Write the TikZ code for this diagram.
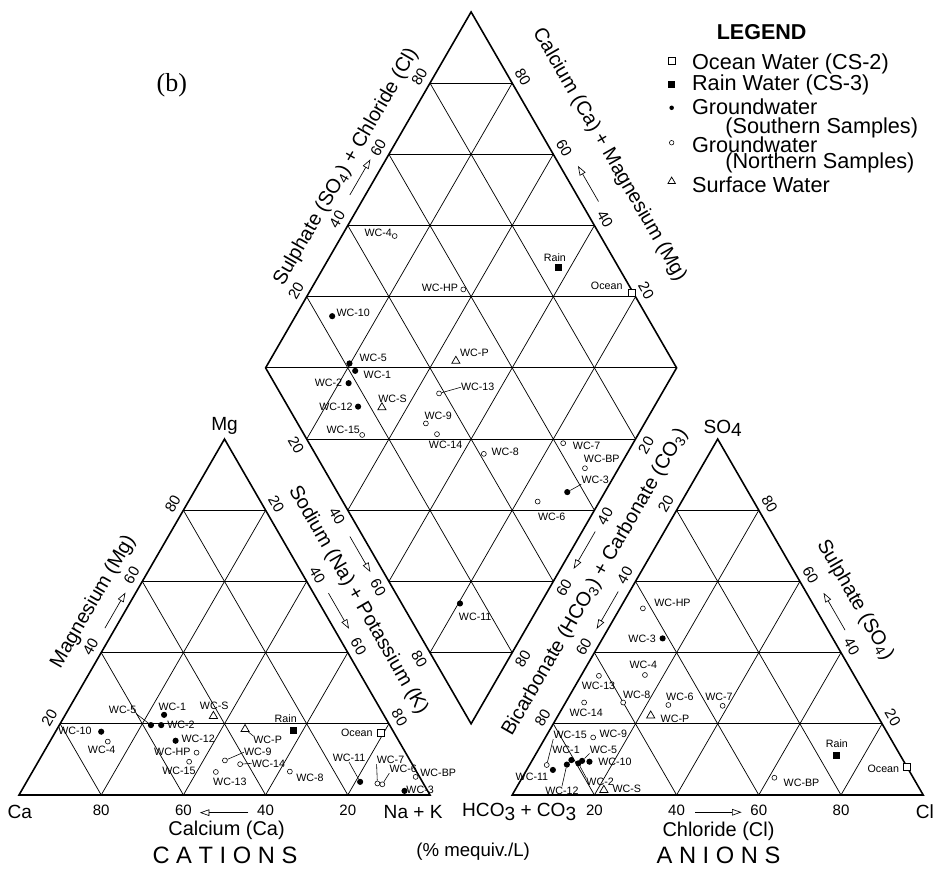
\documentclass[tikz,border=0pt]{standalone}
\usepackage{fontspec}
\setmainfont{Liberation Sans}
\newfontfamily\serifb{Liberation Serif}
\usetikzlibrary{arrows.meta,shapes.geometric}

\tikzset{
  outline/.style={line width=1.1pt},
  gridline/.style={line width=0.5pt},
  ticknum/.style={font=\fontsize{10.4}{12}\selectfont,inner sep=0pt},
  axtitle/.style={font=\fontsize{13.8}{16}\selectfont,inner sep=0pt},
  corner/.style={font=\fontsize{13.2}{16}\selectfont,inner sep=0pt},
  wc/.style={font=\fontsize{7.4}{9}\selectfont,inner sep=0pt},
  leader/.style={line width=0.4pt},
  dirarrow/.style={line width=0.45pt,-{Triangle[open,length=2.3mm,width=1.6mm]}},
  ocean/.style={draw,fill=white,rectangle,inner sep=0pt,minimum size=1.7mm,line width=0.5pt},
  rain/.style={fill,rectangle,inner sep=0pt,minimum size=1.7mm},
  south/.style={fill,circle,inner sep=0pt,minimum size=1.5mm},
  north/.style={draw,fill=white,circle,inner sep=0pt,minimum size=1.2mm,line width=0.4pt},
  surf/.style={draw,fill=white,regular polygon,regular polygon sides=3,inner sep=0pt,
               minimum size=2.3mm,line width=0.5pt},
}

\begin{document}
\begin{tikzpicture}
  \useasboundingbox (-0.4623,-1.849) rectangle (22.263,19.343);
  % the two triangles
  \foreach \s in {0,12}{
  \begin{scope}[xshift=\s cm]
    \foreach \i in {1,...,4}{
      \draw[gridline] (2*\i,0) -- ({\i},{1.7321*\i});
      \draw[gridline] (2*\i,0) -- ({5+\i},{8.6603-1.7321*\i});
      \draw[gridline] ({\i},{1.7321*\i}) -- ({10-\i},{1.7321*\i});
    }
    \draw[outline] (0,0) -- (10,0) -- (5,8.6603) -- cycle;
  \end{scope}
  }
  % diamond
  \foreach \i in {1,...,4}{
    \draw[gridline] ({11+\i},{1.7321*(1+\i)}) -- ({6+\i},{10.3923+1.7321*\i});
    \draw[gridline] ({6+\i},{10.3923-1.7321*\i}) -- ({11+\i},{19.0526-1.7321*\i});
  }
  \foreach \k in {1,...,9}{
    \pgfmathsetmacro\w{min(\k,10-\k)}
    \draw[gridline] ({11-\w},{1.7321*(1+\k)}) -- ({11+\w},{1.7321*(1+\k)});
  }
  \draw[outline] (11,1.7321) -- (16,10.3923) -- (11,19.0526) -- (6,10.3923) -- cycle;

  % tick numbers
  \foreach \v in {20,40,60,80}{
    \node[ticknum] at ({10-\v/10},-0.365) {\v};
    \node[ticknum,rotate=60] at ({5*\v/100-0.26},{8.6603*\v/100+0.15}) {\v};
    \node[ticknum,rotate=-60] at ({5+5*\v/100+0.26},{8.6603*(1-\v/100)+0.15}) {\v};
    \node[ticknum] at ({12+\v/10},-0.365) {\v};
    \node[ticknum,rotate=60] at ({12+5*(1-\v/100)-0.26},{8.6603*(1-\v/100)+0.15}) {\v};
    \node[ticknum,rotate=-60] at ({22-5*\v/100+0.26},{8.6603*\v/100+0.15}) {\v};
    \node[ticknum,rotate=60] at ({6+5*\v/100-0.26},{10.3923+8.6603*\v/100+0.15}) {\v};
    \node[ticknum,rotate=-60] at ({11+5*(1-\v/100)+0.26},{19.0526-8.6603*(1-\v/100)+0.15}) {\v};
    \node[ticknum,rotate=-60] at ({6+5*\v/100-0.26},{10.3923-8.6603*\v/100-0.15}) {\v};
    \node[ticknum,rotate=60] at ({11+5*(1-\v/100)+0.26},{1.7321+8.6603*(1-\v/100)-0.15}) {\v};
  }

  % axis titles and arrows
  \node[axtitle,rotate=60] (t-mg) at (1.81,4.70) {Magnesium (Mg)};
  \node[axtitle,rotate=-60] (t-nak) at (8.25,4.74) {Sodium (Na) + Potassium (K)};
  \node[axtitle,rotate=60] (t-socl) at (7.96,15.28) {Sulphate (SO\textsubscript{4}) + Chloride (Cl)};
  \node[axtitle,rotate=-60] (t-camg) at (14.36,15.58) {Calcium (Ca) + Magnesium (Mg)};
  \node[axtitle,rotate=60] (t-hco) at (14.02,5.18) {Bicarbonate (HCO\textsubscript{3}) + Carbonate (CO\textsubscript{3})};
  \node[axtitle,rotate=-60] (t-so) at (20.34,4.74) {Sulphate (SO\textsubscript{4})};
  \node[axtitle] (t-ca) at (5.05,-0.85) {Calcium (Ca)};
  \node[axtitle] (t-cl) at (17.02,-0.89) {Chloride (Cl)};
  \draw[dirarrow] (2.09,4.06) -- ++(60:1);
  \draw[dirarrow] (7.53,4.91) -- ++(-60:1);
  \draw[dirarrow] (8.05,6.29) -- ++(-60:1);
  \draw[dirarrow] (14.02,6.41) -- ++(240:1.05);
  \draw[dirarrow] (14.58,4.95) -- ++(240:1.05);
  \draw[dirarrow] (8.05,14.60) -- ++(60:1);
  \draw[dirarrow] (14.10,14.44) -- ++(120:1);
  \draw[dirarrow] (20.10,4.01) -- ++(120:1.05);
  \draw[dirarrow] (5.58,-0.43) -- ++(180:1.18);
  \draw[dirarrow] (16.45,-0.42) -- ++(0:1.13);

  % corners
  \node[corner] (c-ca) at (0.02,-0.41) {Ca};
  \node[corner] (c-nak) at (9.59,-0.41) {Na + K};
  \node[corner] (c-mg) at (5,8.98) {Mg};
  \node[corner] (a-hco) at (12.17,-0.41) {HCO\raisebox{-0.35ex}{3} + CO\raisebox{-0.35ex}{3}};
  \node[corner] (a-cl) at (22.04,-0.41) {Cl};
  \node[corner] (a-so) at (17.12,8.92) {SO\raisebox{-0.35ex}{4}};
  \node[font=\fontsize{16.4}{19}\selectfont,inner sep=0pt] (cat) at (5.01,-1.46) {C A T I O N S};
  \node[font=\fontsize{16.4}{19}\selectfont,inner sep=0pt] (ani) at (17.02,-1.46) {A N I O N S};
  \node[font=\fontsize{12.9}{15}\selectfont,inner sep=0pt] (unit) at (11.05,-1.38) {(\% mequiv./L)};
  \node[font=\serifb\fontsize{18}{21}\selectfont,inner sep=0pt] (tag) at (3.72,17.28) {(b)};

  % samples in the diamond
  \foreach \nm/\x/\y/\lx/\ly in {4/9.14/13.60/8.74/13.67, HP/10.81/12.30/10.24/12.35,
      13/10.22/9.77/11.16/9.92, 9/9.90/9.04/10.20/9.22, 15/8.35/8.76/7.89/8.88,
      14/10.17/8.78/10.38/8.52, 8/11.31/8.30/11.83/8.35, 7/13.24/8.56/13.81/8.49,
      BP/13.77/7.95/14.18/8.17, 6/12.62/7.14/12.96/6.77}{
    \node[north] (d-\nm) at (\x,\y) {};
    \node[wc] (d-\nm-t) at (\lx,\ly) {WC-\nm};}
  \foreach \nm/\x/\y/\lx/\ly in {10/7.62/11.65/8.13/11.72, 5/8.04/10.50/8.62/10.63,
      1/8.18/10.32/8.72/10.22, 2/8.02/10.02/7.53/10.02, 12/8.25/9.45/7.71/9.45,
      3/13.34/7.37/14.02/7.66, 11/10.73/4.66/11.10/4.34}{
    \node[south] (d-\nm) at (\x,\y) {};
    \node[wc] (d-\nm-t) at (\lx,\ly) {WC-\nm};}
  \foreach \nm/\x/\y/\lx/\ly in {P/10.63/10.56/11.08/10.75, S/8.83/9.43/9.09/9.65}{
    \node[surf] (d-\nm) at (\x,\y) {};
    \node[wc] (d-\nm-t) at (\lx,\ly) {WC-\nm};}
  \node[rain] (d-rain) at (13.12,12.83) {};
  \node[wc] (d-rain-t) at (13.04,13.07) {Rain};
  \node[ocean] (d-ocean) at (14.92,12.21) {};
  \node[wc] (d-ocean-t) at (14.30,12.38) {Ocean};
  \draw[leader] (d-13) -- (d-13-t.west);
  \draw[leader] (d-3) -- (d-3-t.south west);

  % samples in the cation triangle
  \foreach \nm/\x/\y/\lx/\ly in {4/2.16/1.30/2.01/1.10, HP/4.32/1.03/3.73/1.05,
      15/4.14/0.81/3.89/0.58, 9/5.01/0.84/5.81/1.04, 14/5.38/0.75/6.07/0.77,
      13/4.79/0.56/5.13/0.31, 8/6.59/0.57/7.08/0.42, 7/8.72/0.28/9.04/0.85,
      6/8.84/0.26/9.35/0.63, BP/9.65/0.44/10.20/0.53}{
    \node[north] (c-\nm) at (\x,\y) {};
    \node[wc] (c-\nm-t) at (\lx,\ly) {WC-\nm};}
  \foreach \nm/\x/\y/\lx/\ly in {10/2.00/1.54/1.36/1.56, 5/3.21/1.70/2.52/2.07,
      1/3.53/1.95/3.73/2.15, 2/3.46/1.70/3.94/1.70, 12/3.81/1.32/4.36/1.36,
      11/8.30/0.32/8.03/0.90, 3/9.38/0.10/9.76/0.12}{
    \node[south] (c-\nm) at (\x,\y) {};
    \node[wc] (c-\nm-t) at (\lx,\ly) {WC-\nm};}
  \foreach \nm/\x/\y/\lx/\ly in {S/4.73/1.92/4.75/2.17, P/5.50/1.60/6.05/1.34}{
    \node[surf] (c-\nm) at (\x,\y) {};
    \node[wc] (c-\nm-t) at (\lx,\ly) {WC-\nm};}
  \node[rain] (c-rain) at (6.67,1.58) {};
  \node[wc] (c-rain-t) at (6.49,1.85) {Rain};
  \node[ocean] (c-ocean) at (8.80,1.50) {};
  \node[wc] (c-ocean-t) at (8.22,1.51) {Ocean};
  \draw[leader] (c-5-t.south east) -- (c-5);
  \draw[leader] (c-9) -- (c-9-t.west);
  \draw[leader] (c-14) -- (c-14-t.west);
  \draw[leader] (c-P) -- (c-P-t.north west);
  \draw[leader] (c-11-t.south) -- (c-11);
  \draw[leader] (c-7-t.south west) -- (c-7);
  \draw[leader] (c-6-t.south west) -- (c-6);

  % samples in the anion triangle
  \foreach \nm/\x/\y/\lx/\ly in {HP/15.18/4.54/15.90/4.68, 4/15.23/2.92/15.19/3.16,
      13/14.11/2.90/14.10/2.65, 8/14.70/2.25/15.03/2.43, 6/15.80/2.19/16.08/2.39,
      7/17.12/2.17/17.03/2.39, 14/13.75/2.25/13.80/2.01, 9/13.97/1.40/14.46/1.50,
      15/12.84/0.73/13.41/1.46, BP/18.38/0.42/19.04/0.30}{
    \node[north] (a-\nm) at (\x,\y) {};
    \node[wc] (a-\nm-t) at (\lx,\ly) {WC-\nm};}
  \foreach \nm/\x/\y/\lx/\ly in {3/15.66/3.81/15.16/3.81, 1/13.44/0.85/13.31/1.10,
      5/13.70/0.83/14.22/1.11, 10/13.88/0.81/14.50/0.81, 12/13.33/0.74/13.21/0.11,
      2/13.61/0.77/14.14/0.32, 11/12.99/0.61/12.48/0.44}{
    \node[south] (a-\nm) at (\x,\y) {};
    \node[wc] (a-\nm-t) at (\lx,\ly) {WC-\nm};}
  \foreach \nm/\x/\y/\lx/\ly in {P/15.37/1.93/15.96/1.85, S/14.23/0.12/14.79/0.15}{
    \node[surf] (a-\nm) at (\x,\y) {};
    \node[wc] (a-\nm-t) at (\lx,\ly) {WC-\nm};}
  \node[rain] (a-rain) at (19.88,0.97) {};
  \node[wc] (a-rain-t) at (19.90,1.26) {Rain};
  \node[ocean] (a-ocean) at (21.60,0.69) {};
  \node[wc] (a-ocean-t) at (21.03,0.63) {Ocean};
  \draw[leader] (a-15-t.south west) -- (a-15);
  \draw[leader] (a-5-t.south west) -- (a-5);
  \draw[leader] (a-12-t.north) -- (a-12);
  \draw[leader] (a-2-t.north west) -- (a-2);

  % legend
  \begin{scope}[every node/.append style={font=\fontsize{15}{18}\selectfont,inner sep=0pt}]
    \node[font=\bfseries\fontsize{14.9}{18}\selectfont] (leg) at (18.07,18.57) {LEGEND};
    \node[ocean] (k-ocean) at (15.88,17.86) {};
    \node[rain] (k-rain) at (15.88,17.29) {};
    \node[south,minimum size=1.1mm] (k-south) at (15.88,16.72) {};
    \node[north,minimum size=1.1mm] (k-north) at (15.88,15.87) {};
    \node[surf,minimum size=2.1mm] (k-surf) at (15.88,14.93) {};
    \node[anchor=west] (k-ocean-t) at (16.37,17.80) {Ocean Water (CS-2)};
    \node[anchor=west] (k-rain-t) at (16.37,17.28) {Rain Water (CS-3)};
    \node[anchor=west] (k-south-t) at (16.37,16.75) {Groundwater};
    \node[anchor=west] (k-south-s) at (17.18,16.22) {(Southern Samples)};
    \node[anchor=west] (k-north-t) at (16.37,15.82) {Groundwater};
    \node[anchor=west] (k-north-s) at (17.18,15.37) {(Northern Samples)};
    \node[anchor=west] (k-surf-t) at (16.37,14.84) {Surface Water};
  \end{scope}
\end{tikzpicture}
\end{document}
